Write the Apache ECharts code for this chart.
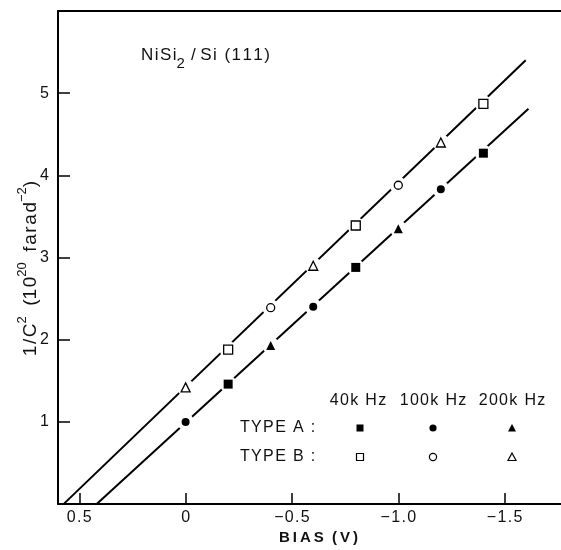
<!DOCTYPE html>
<html><head><meta charset="utf-8">
<script src="https://cdn.jsdelivr.net/npm/echarts@6/dist/echarts.min.js"></script>
<style>html,body{margin:0;padding:0;background:#fff}#c{width:561px;height:550px}</style>
</head><body><div id="c"></div>
<script>
// ---- data (bias V, 1/C^2 in 1e20 farad^-2) ----
const typeA40k  = [[-0.2,1.46],[-0.8,2.88],[-1.4,4.27]];
const typeA100k = [[0,1.00],[-0.6,2.40],[-1.2,3.83]];
const typeA200k = [[-0.4,1.93],[-1.0,3.35]];
const typeB40k  = [[-0.2,1.88],[-0.8,3.39],[-1.4,4.87]];
const typeB100k = [[-0.4,2.39],[-1.0,3.88]];
const typeB200k = [[0,1.42],[-0.6,2.90],[-1.2,4.40]];
// fitted straight lines (endpoints)
const fitA = [[0.418,0],[-1.612,4.81]];
const fitB = [[0.574,0],[-1.599,5.40]];
const xTicks = [0.5,0,-0.5,-1.0,-1.5];
const yTicks = [1,2,3,4,5];
const freqLabels = ['40k Hz','100k Hz','200k Hz'];
const typeLabels = ['TYPE A :','TYPE B :'];

const FONT = 'Liberation Sans';
const chart = echarts.init(document.getElementById('c'), null, {renderer:'canvas'});

const allPts = [].concat(typeA40k,typeA100k,typeA200k,typeB40k,typeB100k,typeB200k);
function marker(name, data, symbol, filled, size){
  return {type:'scatter', name, data, symbol, symbolSize:size, z:5,
    itemStyle:{color: filled?'#000':'#fff', borderColor:'#000', borderWidth: filled?0:1.3, opacity:1}};
}
const HS = '\u200a';
function spaced(s, sep){ return s.split('').join(sep||HS); }
function fmtX(v){ if (v===0) return '0'; return spaced((v<0?'\u2212':'') + Math.abs(v).toFixed(1), HS); }

// legend graphics
const legX = [358, 433, 512];
const legRowY = [428, 457];
const legSym = [['rect','circle','triangle'],['rect','circle','triangle']];
const graphics = [];
freqLabels.forEach((t,i)=>graphics.push({type:'text', x:legX[i], y:401, style:{text:spaced(t), font:'16px '+FONT, fill:'#111', align:'center', verticalAlign:'middle'}}));
typeLabels.forEach((t,i)=>graphics.push({type:'text', x:240, y:legRowY[i], style:{text:spaced(t), font:'16px '+FONT, fill:'#111', align:'left', verticalAlign:'middle'}}));
function symShape(kind, cx, cy, filled){
  const st = {fill: filled?'#000':'#fff', stroke:'#000', lineWidth: filled?0:1.2};
  if (kind==='rect') return {type:'rect', shape:{x:cx-3.5,y:cy-3.5,width:7,height:7}, style:st};
  if (kind==='circle') return {type:'circle', shape:{cx:cx,cy:cy,r:3.6}, style:st};
  return {type:'polygon', shape:{points:[[cx,cy-4],[cx+4,cy+3.5],[cx-4,cy+3.5]]}, style:st};
}
[0,1].forEach(r=>[0,1,2].forEach(c=>graphics.push(symShape(legSym[r][c], legX[c]+(c===0?2:0), legRowY[r], r===0))));
graphics.push({type:'text', x:141, y:57, style:{
  text:'{a|'+spaced('NiSi')+'}{b|2}{a|'+HS+' / '+spaced('Si (111)')+'}', fill:'#111', verticalAlign:'middle',
  rich:{a:{fontSize:17, fontFamily:FONT, lineHeight:20, verticalAlign:'top'}, b:{fontSize:15, fontFamily:FONT, lineHeight:20, padding:[9,0,0,0], verticalAlign:'top'}}}});

const yName = '{a|'+spaced('1/C')+'}{s|2}{a|  ('+spaced('10')+'}{s|20}{a|  '+spaced('farad')+'}{s|\u22122}{a|)}';

chart.setOption({
  animation:false,
  backgroundColor:'#fff',
  grid:{left:58, top:11, right:0, bottom:44},
  graphic: graphics,
  xAxis:[{
    type:'value', min:-1.765, max:0.6, inverse:true,
    name:'B\u2009I\u2009A\u2009S  (\u2009V\u2009)', nameLocation:'middle', nameGap:22,
    nameTextStyle:{fontFamily:FONT, fontSize:15, fontWeight:'bold', color:'#111', padding:[0,0,0,18]},
    axisLine:{onZero:false, lineStyle:{color:'#000', width:2}},
    axisTick:{inside:true, length:11, customValues:xTicks, lineStyle:{color:'#000', width:1.5}},
    axisLabel:{customValues:xTicks, formatter:fmtX, margin:5, fontFamily:FONT, fontSize:16, color:'#111'},
    splitLine:{show:false}
  },{
    type:'value', min:-1.765, max:0.6, inverse:true, position:'top',
    axisLine:{show:true, onZero:false, lineStyle:{color:'#000', width:2}},
    axisTick:{show:false}, axisLabel:{show:false}, splitLine:{show:false}
  }],
  yAxis:{
    type:'value', min:0, max:6,
    name:yName, nameLocation:'middle', nameGap:18, nameMoveOverlap:false,
    nameTextStyle:{color:'#111', padding:[0,22,0,0],
      rich:{a:{fontFamily:FONT, fontSize:19, lineHeight:24, verticalAlign:'bottom'},
            s:{fontFamily:FONT, fontSize:13, lineHeight:13, verticalAlign:'top'}}},
    axisLine:{show:true, onZero:false, lineStyle:{color:'#000', width:2}},
    axisTick:{show:true, inside:true, length:12, customValues:yTicks, lineStyle:{color:'#000', width:1.5}},
    axisLabel:{customValues:yTicks, margin:9, fontFamily:FONT, fontSize:16, color:'#111'},
    splitLine:{show:false}
  },
  series:[
    {type:'line', data:fitA, symbol:'none', z:2, lineStyle:{color:'#000', width:2}},
    {type:'line', data:fitB, symbol:'none', z:2, lineStyle:{color:'#000', width:2}},
    {type:'scatter', data:allPts, symbol:'circle', symbolSize:17, z:3, itemStyle:{color:'#fff', opacity:1}, silent:true},
    marker('A40', typeA40k, 'rect', true, 9),
    marker('A100', typeA100k, 'circle', true, 8),
    marker('A200', typeA200k, 'triangle', true, 9),
    marker('B40', typeB40k, 'rect', false, 9),
    marker('B100', typeB100k, 'circle', false, 8),
    marker('B200', typeB200k, 'triangle', false, 9)
  ]
});
</script></body></html>
